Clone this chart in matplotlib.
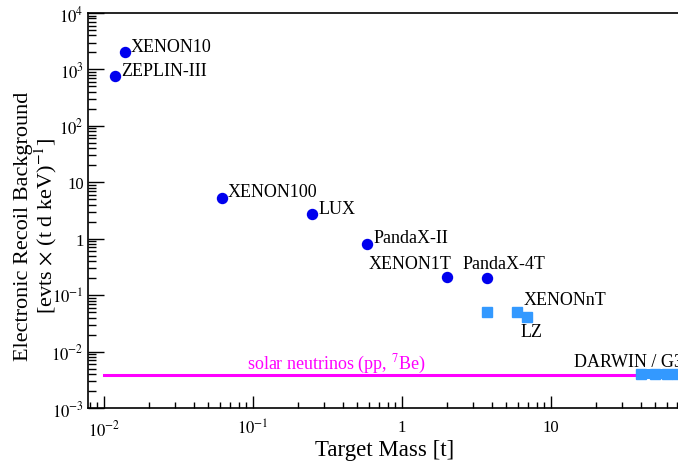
import numpy as np
import matplotlib
matplotlib.use('Agg')
import matplotlib.pyplot as plt
from matplotlib.ticker import FixedLocator, LogLocator, NullFormatter

plt.rcParams['font.family'] = ['Liberation Serif', 'DejaVu Serif']
plt.rcParams['mathtext.fontset'] = 'stix'

# measured experiments (mass in t, background in evts/(t d keV))
names = ['XENON10', 'ZEPLIN-III', 'XENON100', 'LUX', 'PandaX-II', 'XENON1T', 'PandaX-4T']
mass = [0.0138, 0.0119, 0.062, 0.25, 0.58, 2.0, 3.7]
background = [2050, 760, 5.3, 2.7, 0.82, 0.21, 0.20]

# projected experiments
proj_mass = [3.7, 5.9, 6.9]
proj_bg = [0.050, 0.050, 0.041]

darwin_mass = [40, 50, 60, 70, 80]
darwin_bg = [0.0040, 0.0040, 0.0040, 0.0040, 0.0040]

solar_mass = [0.01, 80]
solar_bg = [0.0038, 0.0038]

# label offsets in pixels (dx, dy, ha)
label_offsets = {
    'XENON10': (6, 5, 'left'),
    'ZEPLIN-III': (6, 6, 'left'),
    'XENON100': (6, 6, 'left'),
    'LUX': (6, 6, 'left'),
    'PandaX-II': (7, 6, 'left'),
    'XENON1T': (5, 13, 'right'),
    'PandaX-4T': (-24, 15, 'left'),
}

px = 0.72  # points per pixel at dpi 100

fig = plt.figure(figsize=(6.78, 4.64), dpi=100)
ax = fig.add_axes([88 / 678, 1 - 409 / 464, (682 - 88) / 678, 395 / 464])

ax.plot(solar_mass, solar_bg, color='#ff00ff', lw=2.2, zorder=2)
ax.plot(darwin_mass, darwin_bg, color='#3399ff', lw=10 * px, marker='s', ms=10 * px,
        solid_capstyle='butt', zorder=3)
ax.plot(mass, background, 'o', color='#0000ee', ms=10 * px, zorder=4)
ax.plot(proj_mass, proj_bg, 's', color='#3399ff', ms=10 * px, zorder=4)

for n, m, b in zip(names, mass, background):
    dx, dy, ha = label_offsets[n]
    ax.annotate(n, (m, b), xytext=(dx * px, dy * px), textcoords='offset points',
                ha=ha, va='center', fontsize=13)

ax.annotate('XENONnT', (proj_mass[1], proj_bg[1]), xytext=(7 * px, 13 * px),
            textcoords='offset points', ha='left', va='center', fontsize=13)
ax.annotate('LZ', (proj_mass[2], proj_bg[2]), xytext=(-6 * px, -15 * px),
            textcoords='offset points', ha='left', va='center', fontsize=13)
ax.annotate('DARWIN / G3', (darwin_mass[0], darwin_bg[0]), xytext=(-67 * px, 13 * px),
            textcoords='offset points', ha='left', va='center', fontsize=13,
            annotation_clip=False)
ax.text(0.36, 0.0062, r'solar neutrinos (pp, $^{7}$Be)', color='#ff00ff',
        fontsize=13, ha='center', va='center')

ax.set_xscale('log')
ax.set_yscale('log')
ax.set_xlim(10 ** (-2 - 16 / 149), 10 ** (-2 + 578 / 149))
ax.set_ylim(1e-3, 1e4)

ax.xaxis.set_major_locator(FixedLocator([0.01, 0.1, 1, 10]))
ax.xaxis.set_ticklabels([r'$10^{-2}$', r'$10^{-1}$', '1', '10'])
ax.yaxis.set_major_locator(FixedLocator([1e-3, 1e-2, 1e-1, 1, 10, 1e2, 1e3, 1e4]))
ax.yaxis.set_ticklabels([r'$10^{-3}$', r'$10^{-2}$', r'$10^{-1}$', '1', '10',
                         r'$10^{2}$', r'$10^{3}$', r'$10^{4}$'])
ax.xaxis.set_minor_locator(LogLocator(base=10, subs=np.arange(2, 10), numticks=20))
ax.yaxis.set_minor_locator(LogLocator(base=10, subs=np.arange(2, 10), numticks=20))
ax.xaxis.set_minor_formatter(NullFormatter())
ax.yaxis.set_minor_formatter(NullFormatter())

ax.tick_params(axis='x', which='major', direction='in', length=12 * px, width=1,
               labelsize=12, pad=8, top=False)
ax.tick_params(axis='x', which='minor', direction='in', length=6 * px, width=1, top=False)
ax.tick_params(axis='y', which='major', direction='in', length=16 * px, width=1,
               labelsize=12, pad=3, right=False)
ax.tick_params(axis='y', which='minor', direction='in', length=8 * px, width=1, right=False)

for s in ax.spines.values():
    s.set_linewidth(1.2)

ax.set_xlabel('Target Mass [t]', fontsize=16.5, labelpad=0)
ax.set_ylabel('Electronic Recoil Background\n' + r'[evts $\times$ (t d keV)$^{-1}$]',
              fontsize=16, linespacing=0.95)
ax.yaxis.set_label_coords((59 - 88) / 594, (409 - 226) / 395)

fig.savefig('out.png', dpi=100)
